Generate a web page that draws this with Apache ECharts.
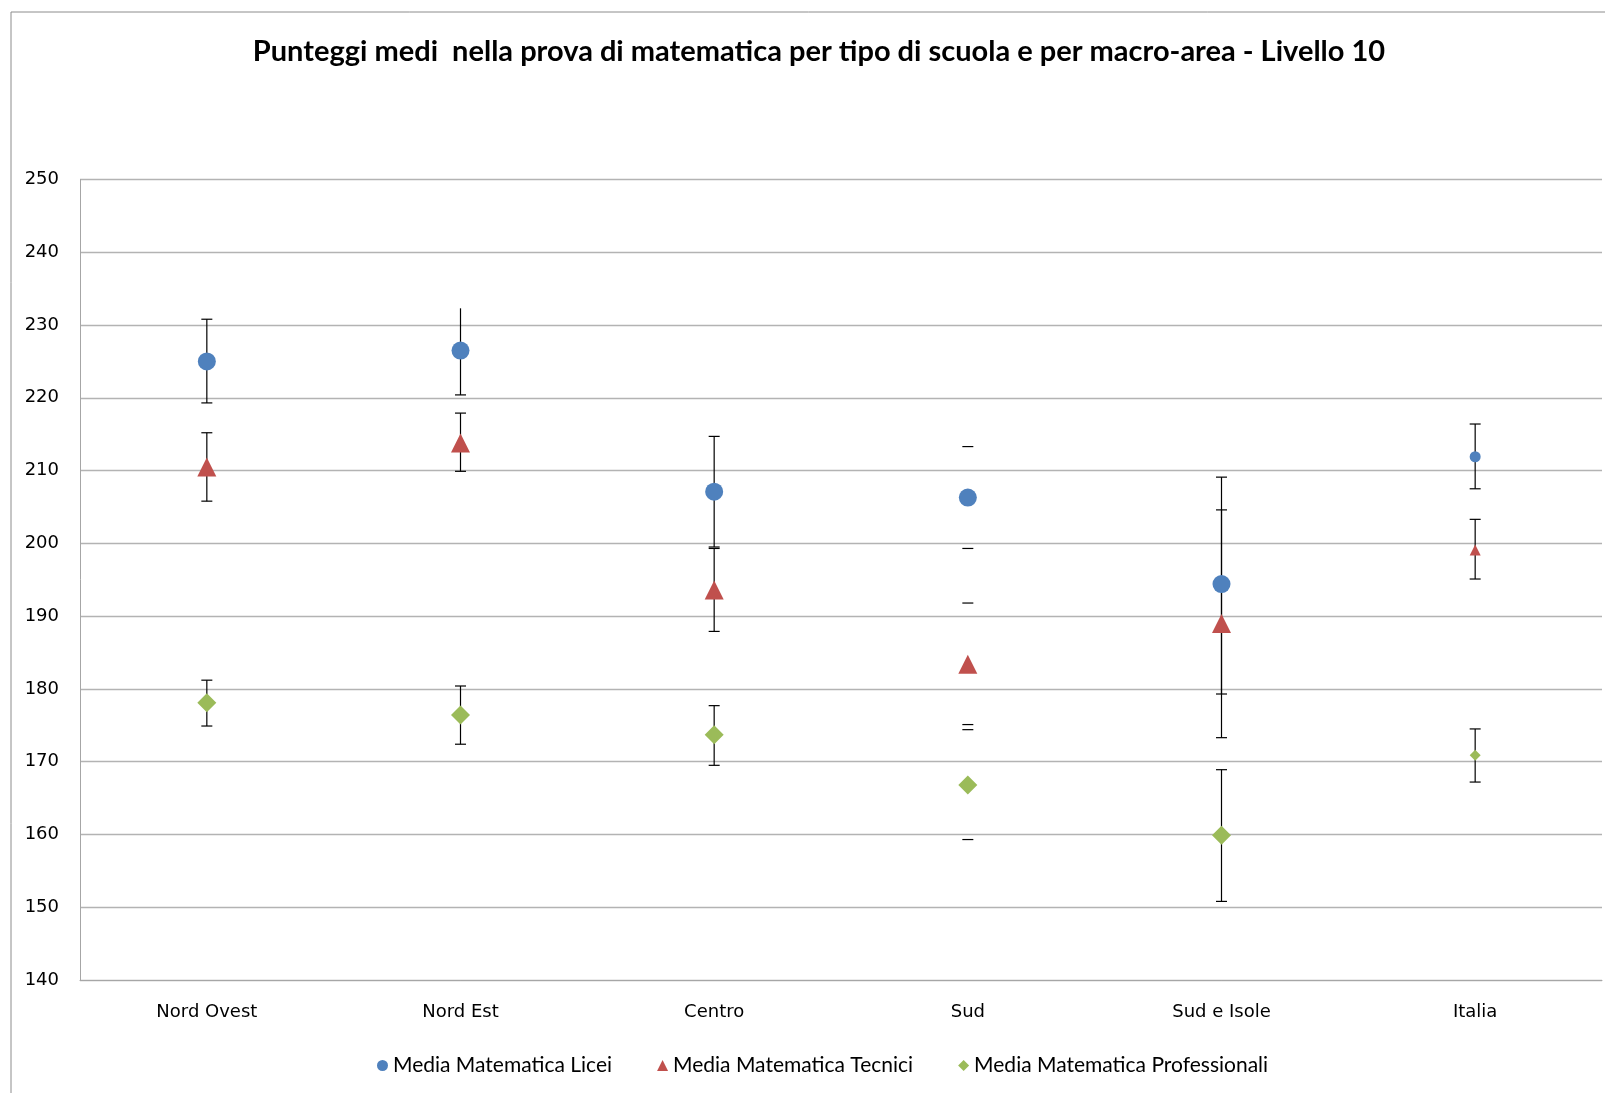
<!DOCTYPE html>
<html><head><meta charset="utf-8">
<script src="https://cdn.jsdelivr.net/npm/echarts@6/dist/echarts.min.js"></script>
<style>html,body{margin:0;padding:0;background:#fff}#c{width:1605px;height:1093px}</style>
</head><body><div id="c"></div>
<script>
const titleText = 'Punteggi medi  nella prova di matematica per tipo di scuola e per macro-area - Livello 10';
const categories = ['Nord Ovest', 'Nord Est', 'Centro', 'Sud', 'Sud e Isole', 'Italia'];
const seriesNames = ['Media Matematica Licei', 'Media Matematica Tecnici', 'Media Matematica Professionali'];
const licei      = [225.0, 226.5, 207.1, 206.3, 194.4, 211.9];
const liceiLow   = [219.3, 220.4, 199.5, 199.3, 179.3, 207.5];
const liceiHigh  = [230.8, 232.3, 214.7, 213.3, 209.1, 216.4];
const tecnici     = [210.5, 213.8, 193.6, 183.4, 189.0, 199.1];
const tecniciLow  = [205.8, 209.9, 187.9, 175.1, 173.3, 195.1];
const tecniciHigh = [215.2, 217.9, 199.3, 191.8, 204.6, 203.3];
const prof     = [178.1, 176.4, 173.7, 166.8, 159.9, 170.9];
const profLow  = [174.9, 172.4, 169.5, 159.3, 150.8, 167.2];
const profHigh = [181.2, 180.4, 177.7, 174.4, 168.9, 174.5];
const yTicks = [140, 150, 160, 170, 180, 190, 200, 210, 220, 230, 240, 250];
const stemHiddenCategories = ['Sud'];
const topCapHidden = [[0, 'Nord Est']];

const colors = ['#4F81BD', '#C0504D', '#9BBB59'];
const symbols = ['circle', 'triangle', 'diamond'];
const vals = [licei, tecnici, prof];
const lows = [liceiLow, tecniciLow, profLow];
const highs = [liceiHigh, tecniciHigh, profHigh];
const smallIdx = categories.length - 1;

function errSeries(k) {
  return {
    type: 'custom', name: seriesNames[k], z: 1, silent: true,
    data: categories.map((c, i) => [i, lows[k][i], highs[k][i]]),
    renderItem: function (params, api) {
      const i = api.value(0);
      const lo = api.coord([i, api.value(1)]);
      const hi = api.coord([i, api.value(2)]);
      const w = 5.5;
      const st = { stroke: '#000', lineWidth: 1.2 };
      const ch = [
        { type: 'line', shape: { x1: lo[0] - w, y1: lo[1], x2: lo[0] + w, y2: lo[1] }, style: st }
      ];
      const hideTop = topCapHidden.some(t => t[0] === k && t[1] === categories[i]);
      if (!hideTop) ch.push({ type: 'line', shape: { x1: hi[0] - w, y1: hi[1], x2: hi[0] + w, y2: hi[1] }, style: st });
      if (stemHiddenCategories.indexOf(categories[i]) < 0) {
        ch.push({ type: 'line', shape: { x1: hi[0], y1: hi[1], x2: lo[0], y2: lo[1] }, style: st });
      }
      return { type: 'group', children: ch };
    }
  };
}

function markerSeries(k) {
  return {
    type: 'scatter', name: seriesNames[k], z: 5,
    symbol: symbols[k],
    symbolSize: function (v, p) { return p.dataIndex === smallIdx ? 11 : (k === 0 ? 18 : 19); },
    itemStyle: { color: colors[k], opacity: 1 },
    data: vals[k].map((v, i) => [i, v])
  };
}

const chart = echarts.init(document.getElementById('c'), null, { renderer: 'canvas' });
chart.setOption({
  animation: false,
  backgroundColor: '#fff',
  color: colors,
  title: {
    text: titleText, left: 814, top: 32, textAlign: 'center',
    textStyle: { fontFamily: 'Lato', fontWeight: 'bold', fontSize: 29, color: '#000' }
  },
  graphic: [{
    type: 'rect', shape: { x: 11, y: 12, width: 1700, height: 1200 },
    style: { fill: 'none', stroke: '#8c8c8c', lineWidth: 1 }, z: -10
  }],
  legend: {
    data: seriesNames.map((n, k) => ({ name: n, icon: symbols[k] })),
    left: 372, top: 1050, itemWidth: 11, itemHeight: 11, itemGap: 45,
    textStyle: { fontFamily: 'Lato', fontSize: 21, color: '#000', padding: [0, 0, 0, 0] }
  },
  grid: { left: 80, right: 3, top: 179.5, bottom: 113, containLabel: false },
  xAxis: {
    type: 'category', data: categories, boundaryGap: true,
    axisLine: { show: true, onZero: false, lineStyle: { color: '#a6a6a6', width: 1 } },
    axisTick: { show: false }, splitLine: { show: false },
    axisLabel: { margin: 23, fontFamily: 'DejaVu Sans', fontSize: 18, color: '#000', interval: 0 }
  },
  yAxis: {
    type: 'value', min: yTicks[0], max: yTicks[yTicks.length - 1], interval: 10,
    axisLine: { show: true, onZero: false, lineStyle: { color: '#a6a6a6', width: 1 } },
    axisTick: { show: false },
    splitLine: { show: true, lineStyle: { color: '#b3b3b3', width: 1.3 } },
    axisLabel: { margin: 21, fontFamily: 'DejaVu Sans', fontSize: 18, color: '#000' }
  },
  series: [errSeries(0), errSeries(1), errSeries(2), markerSeries(0), markerSeries(1), markerSeries(2)]
});
</script></body></html>
